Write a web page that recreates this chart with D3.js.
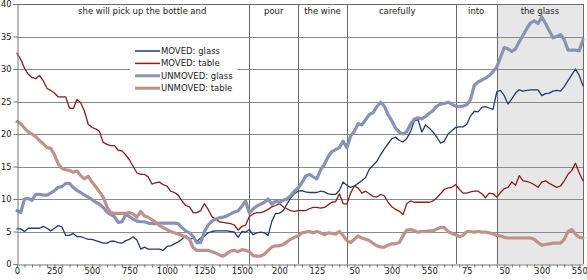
<!DOCTYPE html>
<html><head><meta charset="utf-8">
<script src="https://cdn.jsdelivr.net/npm/d3@7/dist/d3.min.js"></script>
<style>
html,body{margin:0;padding:0;background:#fff;}
svg{display:block;font-family:"DejaVu Sans",Verdana,sans-serif;}
</style></head>
<body><svg id="c" width="587" height="280"></svg>
<script>
// ---- data ----
const segWords = ["she will pick up the bottle and", "pour", "the wine", "carefully", "into", "the glass"];
const segBins  = [62, 13, 13, 29, 11, 24];   // number of 25 ms bins per word
const binMs = 25;
const yTicks = [0, 5, 10, 15, 20, 25, 30, 35, 40];

const movedGlass = [5.4,5.4,5.0,5.5,5.5,5.5,5.5,5.8,5.5,5.1,5.5,5.9,5.7,4.4,4.4,4.7,4.2,4.2,4.0,3.8,
  3.8,3.6,3.4,3.2,3.2,3.5,3.5,3.3,3.2,3.6,3.8,4.2,3.7,2.3,2.6,2.3,2.3,2.3,2.3,2.1,
  2.7,2.8,3.1,3.4,3.8,4.4,3.8,4.0,3.5,4.0,4.3,4.8,5.0,
  5.1,5.1,5.1,5.1,5.0,4.9,4.1,5.0,4.9,5.3,4.5,4.8,4.9,4.8,4.4,6.6,7.8,7.8,8.2,9.2,10.2,10.8,
  11.2,11.3,11.1,11.0,11.0,11.0,11.2,11.1,10.8,10.7,10.7,11.3,12.6,12.1,11.8,12.0,12.4,12.8,13.3,14.6,
  15.2,15.8,16.8,17.7,18.5,19.3,19.5,19.0,
  18.8,19.3,20.4,22.0,22.2,20.3,21.4,20.9,20.3,19.5,18.6,18.9,20.0,20.5,21.0,21.1,21.1,21.5,22.8,23.5,
  23.4,24.1,24.2,24.0,23.8,26.5,26.7,25.9,24.6,25.4,26.3,26.8,26.6,26.7,26.8,26.8,26.8,25.9,26.2,26.3,
  26.6,26.7,26.6,27.3,28.2,29.1,30.0,29.0,27.4];

const movedTable = [32.4,31.5,30.1,29.2,28.7,28.5,29.0,28.2,27.0,26.7,26.3,25.7,25.7,25.7,24.0,23.9,25.3,24.8,23.5,21.5,
  21.0,20.8,20.4,18.7,18.4,18.2,18.2,17.5,17.4,16.8,16.0,15.0,14.0,13.8,13.8,13.4,12.3,12.5,12.6,12.2,
  12.0,11.2,11.0,10.6,9.7,9.0,8.8,7.9,7.9,8.2,
  9.3,8.4,7.3,6.9,6.5,6.4,6.3,6.2,6.0,5.2,5.8,6.0,7.3,7.7,7.9,7.9,8.1,8.4,8.8,9.0,9.3,8.8,8.5,8.2,8.1,
  8.2,8.2,8.2,8.5,8.7,8.7,8.6,8.7,9.1,9.5,9.6,10.8,9.3,9.2,10.9,12.0,11.7,10.9,11.2,10.8,10.4,10.3,10.7,10.5,
  9.5,8.8,8.4,8.1,7.6,9.3,9.7,9.5,9.5,9.5,9.5,9.5,9.7,10.2,10.8,11.5,11.7,11.8,12.2,11.5,
  10.9,10.9,11.1,11.2,11.2,10.8,10.2,10.9,10.8,10.3,11.0,11.6,11.8,12.6,12.1,13.6,12.8,12.7,12.5,12.2,
  11.8,12.6,12.8,12.4,12.1,11.8,12.0,12.8,13.8,14.4,15.5,14.0,12.8];

const unmovedGlass = [8.2,7.9,10.0,10.1,9.8,10.7,10.7,10.6,10.6,10.9,11.3,11.8,11.9,12.4,12.4,11.8,11.3,11.0,10.6,10.3,
  9.9,9.5,9.2,8.7,8.0,7.6,7.3,6.4,6.5,7.6,7.3,6.9,6.6,6.5,6.5,6.3,6.2,6.2,6.3,6.3,
  6.3,6.3,6.3,6.2,5.6,5.1,4.8,4.2,3.3,3.3,5.0,6.0,6.6,
  6.9,7.1,7.2,7.4,7.7,8.0,8.2,8.9,9.7,7.8,8.5,8.9,9.2,9.5,10.0,9.2,9.7,9.5,9.8,10.0,
  10.5,11.2,11.7,12.5,13.5,13.8,13.4,13.1,14.5,15.3,16.5,17.3,17.6,17.9,18.9,17.9,19.7,20.4,21.6,21.4,
  22.2,23.0,23.3,24.2,24.9,24.3,
  23.0,22.0,20.9,20.3,20.0,20.4,21.5,22.3,22.5,22.3,22.7,23.2,23.6,24.3,24.6,24.7,24.9,24.6,24.3,24.2,
  24.3,24.5,25.3,27.5,28.0,28.3,28.6,29.0,29.6,30.3,31.8,33.3,33.1,32.7,33.1,34.2,35.2,36.2,37.1,37.4,
  37.0,38.0,37.0,35.9,34.8,35.0,35.3,34.5,32.9,32.9,32.9,32.8,34.5];

const unmovedTable = [21.9,21.6,20.9,20.3,20.0,19.6,19.0,18.5,17.9,17.8,16.8,15.4,14.7,14.5,14.4,14.1,14.3,13.6,13.1,13.5,
  12.6,11.9,11.1,10.3,8.8,7.9,7.8,7.8,7.8,7.8,7.9,7.7,7.2,8.1,7.4,7.2,6.8,6.4,5.9,5.6,
  5.3,5.0,4.8,4.6,4.4,4.2,3.8,2.5,2.1,2.1,2.1,2.1,1.9,
  1.7,1.4,1.2,1.6,2.0,2.1,1.9,2.2,2.1,1.9,1.3,1.2,1.2,1.5,2.1,2.6,2.8,2.8,3.0,3.4,
  3.8,4.1,4.3,4.8,4.9,5.0,4.8,5.0,4.8,4.5,4.8,4.7,4.6,5.0,
  4.4,3.6,3.3,3.8,4.3,4.0,3.8,3.6,3.2,2.8,2.6,2.6,2.9,3.1,3.1,3.3,4.4,5.2,5.3,5.1,
  4.9,5.0,5.0,5.1,5.1,5.4,5.6,5.6,5.0,4.7,4.5,4.2,4.4,5.0,5.0,4.9,5.0,4.9,4.9,4.8,
  4.6,4.4,4.3,4.1,4.0,4.0,4.0,4.0,4.0,4.0,4.0,3.8,3.3,2.9,3.0,3.1,3.2,3.2,3.2,3.8,
  5.0,5.3,4.6,4.1,4.0];

const seriesNames = ["MOVED: glass", "MOVED: table", "UNMOVED: glass", "UNMOVED: table"];
const seriesData = [movedGlass, movedTable, unmovedGlass, unmovedTable];

// ---- derived categories ----
const segStart = [];
let acc = 0;
segBins.forEach(n => { segStart.push(acc); acc += n; });
const nBins = acc;
const categories = [];
segBins.forEach(n => { for (let k = 0; k < n; k++) categories.push(String(k * binMs)); });

// ---- layout ----
const svg = d3.select("#c");
const L = 17, R = 583, T = 4, B = 264;
const x = d3.scaleLinear().domain([0, nBins - 1]).range([L, R]);
const y = d3.scaleLinear().domain([0, 40]).range([B, T]);
const colors = ["#223a70", "#8c1d18", "#8792b6", "#c0918b"];
const widths = [1.3, 1.3, 3.2, 3.2];
const gridCol = "#8a8a8a";
const font = 8.3;

// shaded last segment
const lastStart = segStart[segStart.length - 1];
svg.append("rect").attr("x", x(lastStart)).attr("y", T)
  .attr("width", R - x(lastStart)).attr("height", B - T).attr("fill", "#e7e7e7");

// horizontal gridlines
svg.append("g").selectAll("line").data(yTicks.filter(v => v > 0)).join("line")
  .attr("x1", L).attr("x2", R)
  .attr("y1", d => Math.round(y(d)) + 0.5).attr("y2", d => Math.round(y(d)) + 0.5)
  .attr("stroke", gridCol).attr("stroke-width", 1);

// segment separators
svg.append("g").selectAll("line").data(segStart.slice(1)).join("line")
  .attr("x1", d => Math.round(x(d)) + 0.5).attr("x2", d => Math.round(x(d)) + 0.5)
  .attr("y1", T).attr("y2", B)
  .attr("stroke", "#6a6a6a").attr("stroke-width", 1);
// right border
svg.append("line").attr("x1", R + 0.5).attr("x2", R + 0.5).attr("y1", T).attr("y2", B)
  .attr("stroke", "#6a6a6a");

// segment word labels
svg.append("g").selectAll("text").data(segWords).join("text")
  .attr("x", (d, i) => {
    const a = x(segStart[i]), b = i < segWords.length - 1 ? x(segStart[i + 1]) : R;
    return (a + b) / 2 + (i === 0 ? 9 : 0) + (i === 3 ? -4 : 0);
  })
  .attr("y", 14).attr("text-anchor", "middle")
  .attr("font-size", 8.5).attr("fill", "#222").text(d => d);

// legend
const lg = svg.append("g");
lg.append("rect").attr("x", 130).attr("y", 43).attr("width", 107).attr("height", 52).attr("fill", "#fff");
seriesNames.forEach((name, i) => {
  const yy = 51 + i * 12.4;
  lg.append("line").attr("x1", 135).attr("x2", 160).attr("y1", yy).attr("y2", yy)
    .attr("stroke", colors[i]).attr("stroke-width", i < 2 ? 1.5 : 3);
  lg.append("text").attr("x", 161).attr("y", yy + 3).attr("font-size", 8.5)
    .attr("fill", "#222").text(name);
});

// series lines
const line = d3.line().x((d, i) => x(i)).y(d => y(d)).curve(d3.curveLinear);
seriesData.forEach((arr, i) => {
  svg.append("path").datum(arr).attr("d", line)
    .attr("fill", "none").attr("stroke", colors[i]).attr("stroke-width", widths[i])
    .attr("stroke-linejoin", "round").attr("stroke-linecap", "round");
});

// y axis
const yAxis = d3.axisLeft(y).tickValues(yTicks).tickSize(4).tickPadding(2).tickFormat(d3.format("d"));
const gy = svg.append("g").attr("transform", `translate(${L + 0.5},0)`).call(yAxis);
gy.select(".domain").attr("stroke", "#777");
gy.selectAll(".tick line").attr("stroke", "#777");
gy.selectAll("text").attr("font-size", font).attr("fill", "#222").attr("font-family", "DejaVu Sans, Verdana, sans-serif");

// x axis
const xAxis = d3.axisBottom(x).tickValues(d3.range(0, nBins, 2)).tickSize(3).tickSizeOuter(0)
  .tickFormat(i => (i % 10 === 0 ? categories[i] : ""));
const gx = svg.append("g").attr("transform", `translate(0,${B + 0.5})`).call(xAxis);
gx.select(".domain").attr("stroke", "#777");
gx.selectAll(".tick line").attr("stroke", "#777");
gx.selectAll("text").attr("font-size", font).attr("fill", "#222").attr("dy", "0.5em").attr("y", 5)
  .attr("font-family", "DejaVu Sans, Verdana, sans-serif");

// top border
svg.append("line").attr("x1", L).attr("x2", R).attr("y1", T + 0.5).attr("y2", T + 0.5).attr("stroke", "#6a6a6a");
</script>
</body></html>
